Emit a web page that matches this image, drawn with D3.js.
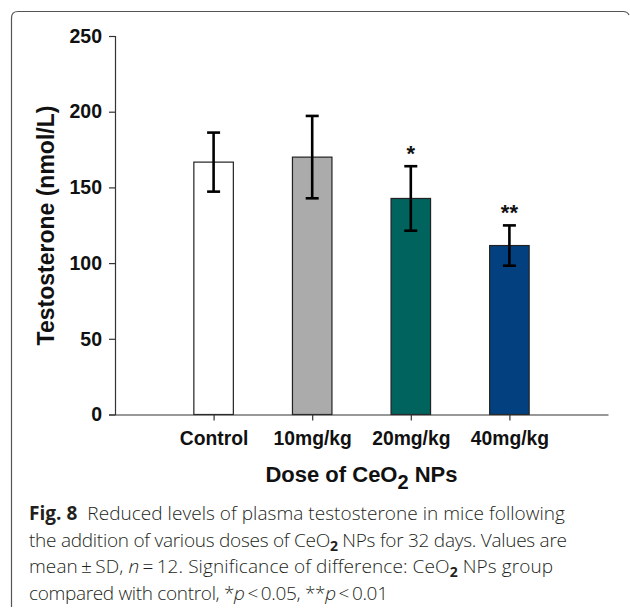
<!DOCTYPE html>
<html>
<head>
<meta charset="utf-8">
<script src="https://cdn.jsdelivr.net/npm/d3@7"></script>
<style>
  html, body { margin: 0; padding: 0; background: #fff; }
  svg { display: block; }
</style>
</head>
<body>
<svg id="chart" width="630" height="609"></svg>
<script>
// ---- data ----
const categories = ["Control", "10mg/kg", "20mg/kg", "40mg/kg"];
const means = [166.7, 170.0, 142.7, 111.6];
const sds = [19.5, 27.2, 21.3, 13.3];
const significance = ["", "", "*", "**"];
const barColors = ["#ffffff", "#ababab", "#00635e", "#02407f"];
const yTicks = [0, 50, 100, 150, 200, 250];

const svg = d3.select("#chart");

// frame
svg.append("path")
  .attr("d", "M11.5,607 V18 Q11.5,11.5 18,11.5 H623 Q627.5,11.5 629,15")
  .attr("fill", "none").attr("stroke", "#555").attr("stroke-width", 1.2);

const x0 = 115, x1 = 608, yBottom = 414.5, yTop = 36;
const x = d3.scalePoint().domain(categories).range([x0, x1]).padding(1);
const y = d3.scaleLinear().domain([0, 250]).range([yBottom, yTop]);
const barW = 39.5;

const fontChart = "'Liberation Sans', Arial, Helvetica, sans-serif";

// bars
svg.append("g").selectAll("rect").data(categories).join("rect")
  .attr("x", d => x(d) - barW / 2)
  .attr("y", (d, i) => y(means[i]))
  .attr("width", barW)
  .attr("height", (d, i) => y(0) - y(means[i]))
  .attr("fill", (d, i) => barColors[i])
  .attr("stroke", "#222").attr("stroke-width", 1.2);

// y axis
const yAxis = d3.axisLeft(y).tickValues(yTicks).tickSize(6).tickSizeOuter(6).tickPadding(7).tickFormat(d3.format("d"));
const gy = svg.append("g").attr("transform", `translate(${x0},0)`).call(yAxis);
gy.selectAll("path, line").attr("stroke", "#333").attr("stroke-width", 1.2);
gy.selectAll("text").attr("font-family", fontChart).attr("font-weight", "bold")
  .attr("font-size", "19.5px").attr("fill", "#111");

// x axis
const xAxis = d3.axisBottom(x).tickSize(6).tickSizeOuter(0).tickPadding(10.5);
const gx = svg.append("g").attr("transform", `translate(0,${yBottom})`).call(xAxis);
gx.selectAll("path, line").attr("stroke", "#333").attr("stroke-width", 1.2);
gx.selectAll("text").attr("font-family", fontChart).attr("font-weight", "bold")
  .attr("font-size", "19.3px").attr("fill", "#111");

// error bars
const capW = 13;
const eb = svg.append("g").attr("stroke", "#000").attr("stroke-width", 2.6).attr("fill", "none");
categories.forEach((c, i) => {
  const cx = x(c), yt = y(means[i] + sds[i]), yb = y(means[i] - sds[i]);
  eb.append("line").attr("x1", cx).attr("x2", cx).attr("y1", yt).attr("y2", yb);
  eb.append("line").attr("x1", cx - capW / 2).attr("x2", cx + capW / 2).attr("y1", yt).attr("y2", yt);
  eb.append("line").attr("x1", cx - capW / 2).attr("x2", cx + capW / 2).attr("y1", yb).attr("y2", yb);
});

// significance stars
svg.append("g").selectAll("text").data(categories).join("text")
  .attr("x", d => x(d))
  .attr("y", (d, i) => y(means[i] + sds[i]) - 5.5)
  .attr("text-anchor", "middle")
  .attr("font-family", fontChart).attr("font-weight", "bold").attr("font-size", "22px")
  .attr("fill", "#111")
  .text((d, i) => significance[i]);

// y title
svg.append("text")
  .attr("transform", "translate(53.5,225.5) rotate(-90)")
  .attr("text-anchor", "middle")
  .attr("font-family", fontChart).attr("font-weight", "bold").attr("font-size", "23px")
  .attr("fill", "#111")
  .text("Testosterone (nmol/L)");

// x title
const xt = svg.append("text")
  .attr("x", (x0 + x1) / 2).attr("y", 482)
  .attr("text-anchor", "middle")
  .attr("font-family", fontChart).attr("font-weight", "bold").attr("font-size", "22px")
  .attr("fill", "#111");
xt.append("tspan").text("Dose of CeO");
xt.append("tspan").attr("dy", 7).attr("font-size", "20px").text("2");
xt.append("tspan").attr("dy", -7).text(" NPs");

// caption
const capFont = "'Open Sans', 'Noto Sans', sans-serif";
const captionLines = [
  [["Fig. 8", "b"], ["  Reduced levels of plasma testosterone in mice following", ""]],
  [["the addition of various doses of CeO", ""], ["2", "sb"], [" NPs for 32 days. Values are", ""]],
  [["mean\u2009\u00b1\u2009SD, ", ""], ["n", "i"], ["\u2009=\u200912. Significance of difference: CeO", ""], ["2", "sb"], [" NPs group", ""]],
  [["compared with control, *", ""], ["p", "i"], ["\u2009<\u20090.05, **", ""], ["p", "i"], ["\u2009<\u20090.01", ""]]
];
const capWidths = [536, 538, 524, 359];
const capBase = [520, 546.7, 573.3, 600];
captionLines.forEach((parts, li) => {
  const t = svg.append("text")
    .attr("x", 29).attr("y", capBase[li])
    .attr("font-family", capFont).attr("font-size", "19px").attr("font-weight", 300).attr("fill", "#231f20")
    .attr("xml:space", "preserve").style("white-space", "pre");
  let shifted = false;
  parts.forEach(([s, st]) => {
    const ts = t.append("tspan").text(s);
    if (st === "b") ts.attr("font-weight", "bold");
    if (st === "i") ts.attr("font-style", "italic");
    if (st === "sb") { ts.attr("font-weight", "bold").attr("font-size", "14px").attr("dy", 4); shifted = true; }
    else if (shifted) { ts.attr("dy", -4); shifted = false; }
  });
  // fit line width via letter spacing
  const natural = t.node().getComputedTextLength();
  const nChars = parts.reduce((a, p) => a + p[0].length, 0);
  const ls = (capWidths[li] - natural) / Math.max(1, nChars - 1);
  t.attr("letter-spacing", ls.toFixed(3));
});
</script>
</body>
</html>
